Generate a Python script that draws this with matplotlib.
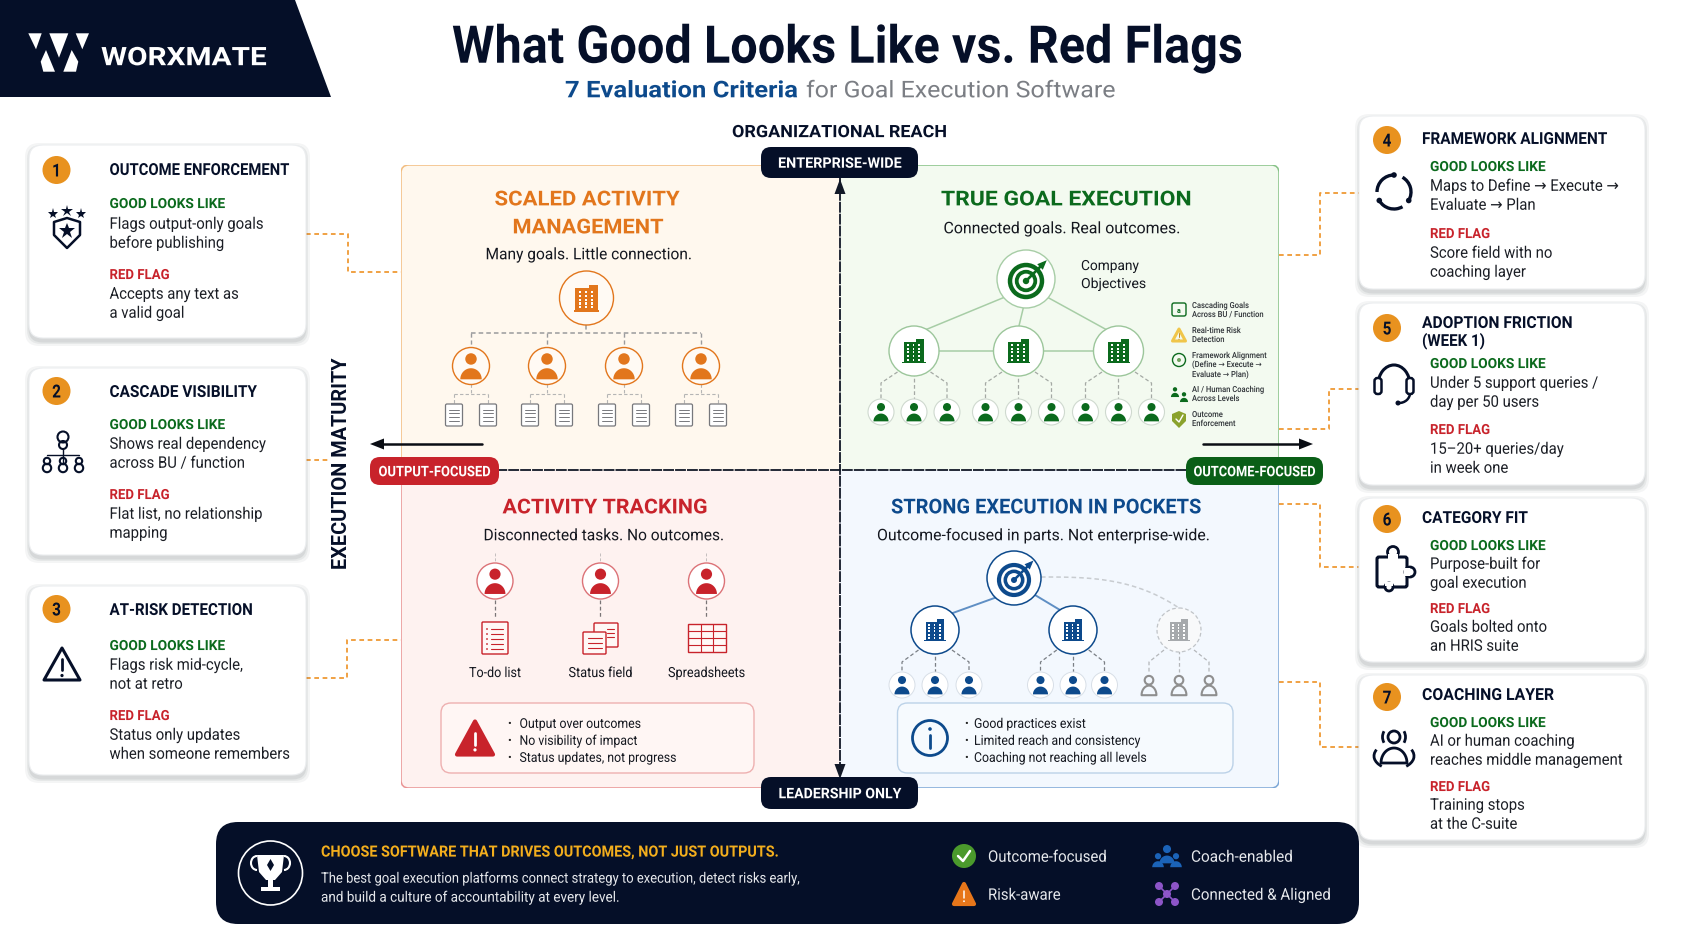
import numpy as np
import matplotlib
matplotlib.use("Agg")
import matplotlib.pyplot as plt
from matplotlib.lines import Line2D
from matplotlib.patches import Arc, Circle, FancyBboxPatch, Polygon, Rectangle
from matplotlib.patheffects import AbstractPathEffect
from matplotlib.transforms import Affine2D

# text of the chart
card_titles = [["OUTCOME ENFORCEMENT"], ["CASCADE VISIBILITY"], ["AT-RISK DETECTION"],
               ["FRAMEWORK ALIGNMENT"], ["ADOPTION FRICTION", "(WEEK 1)"], ["CATEGORY FIT"], ["COACHING LAYER"]]
card_good = [["Flags output-only goals", "before publishing"],
             ["Shows real dependency", "across BU / function"],
             ["Flags risk mid-cycle,", "not at retro"],
             ["Maps to Define → Execute →", "Evaluate → Plan"],
             ["Under 5 support queries /", "day per 50 users"],
             ["Purpose-built for", "goal execution"],
             ["AI or human coaching", "reaches middle management"]]
card_red = [["Accepts any text as", "a valid goal"],
            ["Flat list, no relationship", "mapping"],
            ["Status only updates", "when someone remembers"],
            ["Score field with no", "coaching layer"],
            ["15–20+ queries/day", "in week one"],
            ["Goals bolted onto", "an HRIS suite"],
            ["Training stops", "at the C-suite"]]
quad_titles = [["SCALED ACTIVITY", "MANAGEMENT"], ["TRUE GOAL EXECUTION"],
               ["ACTIVITY TRACKING"], ["STRONG EXECUTION IN POCKETS"]]
quad_tags = ["Many goals. Little connection.", "Connected goals. Real outcomes.",
             "Disconnected tasks. No outcomes.", "Outcome-focused in parts. Not enterprise-wide."]
side_list = [["Cascading Goals", "Across BU / Function"], ["Real-time Risk", "Detection"],
             ["Framework Alignment", "(Define → Execute →", "Evaluate → Plan)"],
             ["AI / Human Coaching", "Across Levels"], ["Outcome", "Enforcement"]]
tool_labels = ["To-do list", "Status field", "Spreadsheets"]
red_bullets = ["Output over outcomes", "No visibility of impact", "Status updates, not progress"]
blue_bullets = ["Good practices exist", "Limited reach and consistency", "Coaching not reaching all levels"]
legend_items = ["Outcome-focused", "Risk-aware", "Coach-enabled", "Connected & Aligned"]

NAVY = "#050f28"
ORANGE = "#e2761c"
GREEN = "#0b6a1d"
RED = "#c8232b"
BLUE = "#0d4a8c"
DASH = "#ef9a35"
FONT = "Roboto"

fig = plt.figure(figsize=(16.83, 9.35), dpi=100, facecolor="white")
ax = fig.add_axes([0, 0, 1, 1])
ax.set_xlim(0, 1683)
ax.set_ylim(935, 0)
ax.axis("off")
renderer = fig.canvas.get_renderer()

# painter's order: later call is on top
z = [1]


class Squeeze(AbstractPathEffect):
    # the reference lettering is narrower than any installed font
    def __init__(self, x0, sx):
        super().__init__()
        self.x0 = x0
        self.sx = sx

    def draw_path(self, rend, gc, tpath, affine, rgbFace=None):
        aff = affine + Affine2D().translate(-self.x0, 0).scale(self.sx, 1).translate(self.x0, 0)
        rend.draw_path(gc, tpath, aff, rgbFace)


def add(art):
    z[0] += 1
    art.set_zorder(z[0])
    if isinstance(art, Line2D):
        ax.add_line(art)
    else:
        ax.add_patch(art)
    return art


def txt(x, y, s, px, color="#14171f", weight="normal", ha="left", fit=None, sx=None):
    z[0] += 1
    t = ax.text(x, y + 0.36 * px, s, fontsize=px * 0.72, color=color, fontweight=weight, ha=ha,
                va="baseline", family=[FONT, "DejaVu Sans"], zorder=z[0])
    if fit:
        sx = fit / t.get_window_extent(renderer).width
    if sx:
        t.set_path_effects([Squeeze(ax.transData.transform((x, y))[0], sx)])
    return t


def rrect(x0, y0, x1, y1, r, fc, ec="none", lw=1.0, ls="-", alpha=None):
    return add(FancyBboxPatch((x0, y0), x1 - x0, y1 - y0, boxstyle=f"round,pad=0,rounding_size={r}",
                              fc=fc, ec=ec, lw=lw, ls=ls, alpha=alpha))


def line(xs, ys, color="#111111", lw=1.0, ls="-"):
    return add(Line2D(xs, ys, color=color, lw=lw, ls=ls, solid_capstyle="round", dash_capstyle="butt"))


def circle(x, y, r, fc="none", ec="none", lw=1.0, ls="-"):
    return add(Circle((x, y), r, fc=fc, ec=ec, lw=lw, ls=ls))


def poly(pts, fc="none", ec="none", lw=1.0):
    return add(Polygon(pts, closed=True, fc=fc, ec=ec, lw=lw, joinstyle="round"))


def shoulders(x, y, a, b, fc="none", ec="none", lw=1.0):
    t = np.linspace(np.pi, 2 * np.pi, 24)
    return poly(np.c_[x + a * np.cos(t), y + b * np.sin(t)], fc=fc, ec=ec, lw=lw)


def person(x, y, r, color, ring=None, ring_lw=1.0, fill="white"):
    if ring:
        circle(x, y, r, fc=fill, ec=ring, lw=ring_lw)
    circle(x, y - 0.38 * r, 0.31 * r, fc=color)
    shoulders(x, y + 0.72 * r, 0.58 * r, 0.6 * r, fc=color)


def ghost(x, y, r, color):
    circle(x, y - 0.4 * r, 0.36 * r, ec=color, lw=1.5)
    shoulders(x, y + 0.85 * r, 0.62 * r, 0.8 * r, ec=color, lw=1.5)


def building(x, y, s, color):
    w = s * 0.85
    add(Rectangle((x - w / 2, y - s * 0.38), w * 0.62, s * 0.88, fc=color))
    add(Rectangle((x + w * 0.12, y - s * 0.5), w * 0.38, s * 1.0, fc=color))
    add(Rectangle((x - w * 0.58, y + s * 0.45), w * 1.16, s * 0.07, fc=color))
    for i in range(5):
        for j in range(3):
            add(Rectangle((x - w * 0.36 + j * w * 0.29, y - s * 0.28 + i * s * 0.15), s * 0.08, s * 0.08,
                          fc="white"))


def doc(x, y, w, h, color="#77787c"):
    rrect(x - w / 2, y - h / 2, x + w / 2, y + h / 2, 1.5, "white", ec=color, lw=0.9)
    for k in range(4):
        yy = y - h * 0.25 + k * h * 0.17
        line([x - w * 0.3, x + w * 0.3], [yy, yy], color=color, lw=0.7)


def target(x, y, r, color):
    circle(x, y, r, ec=color, lw=r * 0.2)
    circle(x, y, r * 0.58, ec=color, lw=r * 0.17)
    circle(x, y, r * 0.2, fc=color)
    line([x, x + r * 1.1], [y, y - r * 1.1], color=color, lw=r * 0.12)
    poly([(x + r * 1.3, y - r * 1.3), (x + r * 0.7, y - r * 1.05), (x + r * 1.05, y - r * 0.7)], fc=color)


def warn(x, y, w, h, color, fill=True, mark="white"):
    lw = 3.0 if fill else 2.2
    pts = [(x, y - h / 2), (x + w / 2, y + h / 2), (x - w / 2, y + h / 2)]
    poly(pts, fc=color if fill else "none", ec=color, lw=lw)
    line([x, x], [y - h * 0.16, y + h * 0.2], color=mark, lw=w * 0.055)
    circle(x, y + h * 0.36, w * 0.045, fc=mark)


def elbow(xs, ys):
    line(xs, ys, color=DASH, lw=1.3, ls=(0, (2.6, 2.0)))


def gray_dash(xs, ys, color="#9a9b9d", lw=0.9):
    line(xs, ys, color=color, lw=lw, ls=(0, (3, 2)))


# ------------- header
poly([(0, 0), (295, 0), (331, 97), (0, 97)], fc=NAVY)
for pts in ([(28.3, 33.3), (41.7, 33.3), (36, 49.3)], [(49.3, 33.3), (68.3, 33.3), (59, 57.7)],
            [(75.7, 33.3), (89, 33.3), (82.3, 49.3)], [(46, 50), (55, 71.7), (43.3, 71.7), (40.7, 61.7)],
            [(71.7, 50), (78.3, 61.7), (76, 71.7), (63.3, 71.7)]):
    poly(pts, fc="white")
txt(101, 56, "WORXMATE", 25.5, color="white", weight="bold", fit=166)
txt(452, 44, "What Good Looks Like vs. Red Flags", 52, color=NAVY, weight="bold", fit=790)
txt(565, 89, "7 Evaluation Criteria", 23, color=BLUE, weight="bold", fit=233)
txt(806, 89, "for Goal Execution Software", 23, color="#7b7e84", fit=310)
txt(840, 131, "ORGANIZATIONAL REACH", 17, color=NAVY, weight="bold", ha="center", fit=216)
z[0] += 1
ax.text(342, 463, "EXECUTION MATURITY", fontsize=14.3, color=NAVY, fontweight="bold", rotation=90,
        ha="center", va="center", family=FONT, zorder=z[0])

# ------------- quadrants
quad_fill = ["#fff8ee", "#f3faf0", "#fef2f0", "#f3f8fe"]
quad_edge = ["#f2bd80", "#86c186", "#e99393", "#7ba6d6"]
quad_box = [(401, 165, 840, 470), (840, 165, 1279, 470), (401, 470, 840, 788), (840, 470, 1279, 788)]
for (x0, y0, x1, y1), fc, ec in zip(quad_box, quad_fill, quad_edge):
    left = x0 - 30 if x0 == 840 else x0
    right = x1 + 30 if x1 == 840 else x1
    top = y0 - 30 if y0 == 470 else y0
    bot = y1 + 30 if y1 == 470 else y1
    p = rrect(left, top, right, bot, 8, fc, ec=ec, lw=1.1)
    p.set_clip_path(Rectangle((x0, y0), x1 - x0, y1 - y0, transform=ax.transData))

# headings of quadrants
txt(587, 198, quad_titles[0][0], 20.5, color=ORANGE, weight="bold", ha="center", fit=185)
txt(588, 226, quad_titles[0][1], 20.5, color=ORANGE, weight="bold", ha="center", fit=151)
txt(589, 253.5, quad_tags[0], 16, ha="center", fit=207)
txt(1066, 198, quad_titles[1][0], 20.5, color=GREEN, weight="bold", ha="center", fit=250)
txt(1062, 227.5, quad_tags[1], 16, ha="center", fit=237)
txt(605, 506, quad_titles[2][0], 20.5, color=RED, weight="bold", ha="center", fit=205)
txt(604, 534.5, quad_tags[2], 16, ha="center", fit=241)
txt(1046, 506, quad_titles[3][0], 20.5, color=BLUE, weight="bold", ha="center", fit=310)
txt(1044, 534.5, quad_tags[3], 16, ha="center", fit=334)

# scaled activity tree
gray_dash([471, 701], [333, 333], lw=1.1)
gray_dash([586, 586], [325, 333], lw=1.1)
person_x = [471, 547, 624, 701]
for px in person_x:
    gray_dash([px, px], [333, 348], lw=1.0)
    gray_dash([px - 17, px + 17], [394, 394], color="#b5b5b5", lw=0.8)
    gray_dash([px, px], [384, 394], color="#b5b5b5", lw=0.8)
    for dx in (-17, 17):
        gray_dash([px + dx, px + dx], [394, 404], color="#b5b5b5", lw=0.8)
        doc(px + dx, 415, 17, 22)
    person(px, 366, 18.5, ORANGE, ring=ORANGE, fill="#fffaf4")
circle(586.5, 298, 27, fc="#fffaf4", ec=ORANGE, lw=1.0)
building(586.5, 298, 26, ORANGE)

# true goal tree
LG = "#a7cda6"
mids = [914, 1018.5, 1118.5]
line([1005, 925], [297, 330], color=LG, lw=1.1)
line([1024, 1018], [305, 330], color=LG, lw=1.1)
line([1047, 1107], [297, 330], color=LG, lw=1.1)
line([914, 1118], [351, 351], color=LG, lw=1.1)
circle(1026, 279, 29, fc="white", ec=LG, lw=1.0)
target(1026, 281, 16, GREEN)
txt(1081, 265, "Company", 14, fit=58)
txt(1081, 283, "Objectives", 14, fit=65)
for mx in mids:
    for dx in (-33, 0, 33):
        gray_dash([mx + dx * 0.5, mx + dx, mx + dx], [372, 383, 399], color="#a4a9a4")
        person(mx + dx, 412, 13, GREEN, ring="#cfd9cf", ring_lw=0.8)
    circle(mx, 351, 25, fc="white", ec="#9cc69b", lw=1.0)
    building(mx, 351, 24, GREEN)

side_y = [[305, 314], [330, 339], [355, 364, 374], [389, 398], [414, 423]]
for rows, ys in zip(side_list, side_y):
    for s, yy in zip(rows, ys):
        txt(1192, yy, s, 8.4, color="#2d3136", weight=500, sx=0.9)
rrect(1172, 303, 1186, 316, 2, "none", ec=GREEN, lw=1.0)
txt(1179, 310, "a", 7, color=GREEN, weight="bold", ha="center")
warn(1179, 335, 13, 12, "#f0c64a", fill=False, mark="#c98f20")
circle(1179, 360, 6.5, ec=GREEN, lw=1.0)
circle(1179, 360, 2, fc="#6ba05a")
person(1175, 392, 7, GREEN)
person(1184, 397, 7, GREEN)
poly([(1172, 414), (1179, 411), (1186, 414), (1186, 421), (1179, 428), (1172, 421)], fc="#8aa22c")
line([1176, 1179, 1183], [419, 422, 415], color="white", lw=1.0)

# activity tracking
tool_x = [495, 600.5, 706.5]
for tx in tool_x:
    gray_dash([tx, tx], [553, 563], color="#c4bebe", lw=0.7)
    gray_dash([tx, tx], [600, 618], color="#7a7577")
    person(tx, 581, 18, RED, ring="#dc7277", ring_lw=1.0)
for tx, s, w in zip(tool_x, tool_labels, [52, 64, 77]):
    txt(tx, 672, s, 14, ha="center", fit=w)
# to-do list
rrect(482, 622, 508, 654, 1, "#fff8f6", ec=RED, lw=1.0)
for k in range(5):
    yy = 629 + k * 5
    circle(487, yy, 0.9, fc=RED)
    line([491, 503], [yy, yy], color=RED, lw=0.8)
# status field
rrect(594, 623, 618, 647, 1, "#fff8f6", ec=RED, lw=1.0)
rrect(583, 632, 606, 654, 1, "#fff8f6", ec=RED, lw=1.0)
for k in range(3):
    line([588, 602], [638 + k * 5, 638 + k * 5], color=RED, lw=0.8)
    line([607, 614], [629 + k * 4, 629 + k * 4], color=RED, lw=0.8)
# spreadsheet
add(Rectangle((688, 624), 38, 28, fc="#fff8f6", ec=RED, lw=1.0))
for k in range(1, 4):
    line([688, 726], [624 + k * 7, 624 + k * 7], color=RED, lw=0.8)
for k in range(1, 3):
    line([688 + k * 12.7, 688 + k * 12.7], [624, 652], color=RED, lw=0.8)

rrect(441, 703, 754, 773, 10, "#fff6f4", ec="#eeb0b0", lw=1.0)
warn(475, 738, 36, 33, RED)
for s, yy in zip(red_bullets, [723, 740, 757]):
    txt(507, yy, "•", 11, color="#222222")
    txt(519.5, yy, s, 13.5, sx=0.91)

# strong execution in pockets
SB = "#5f8fc4"
line([1000, 950], [596, 614], color=SB, lw=1.4)
line([1030, 1060], [592, 610], color=SB, lw=1.4)
t_arc = np.linspace(0, 1, 30)
gray_dash(1041 + t_arc * 138, 577 + 31 * t_arc ** 3, color="#c8ccd0", lw=1.1)
for mx, color in ((935, "#7a7f85"), (1073, "#7a7f85"), (1179, "#b4b7ba")):
    xs = (902, 935, 969) if mx == 935 else (1040.5, 1073, 1104.5) if mx == 1073 else (1149, 1179, 1209)
    for px in xs:
        gray_dash([(mx + px) / 2, px, px], [650, 662, 672], color=color)
for mx in (935, 1073):
    circle(mx, 630, 24, fc="white", ec=BLUE, lw=1.1)
    building(mx, 630, 22, BLUE)
circle(1179, 630, 22, fc="#f8f9fa", ec="#c0c4c8", lw=0.9, ls=(0, (3, 2)))
building(1179, 630, 22, "#a6a9ac")
circle(1014, 578, 27, fc="white", ec=BLUE, lw=1.1)
target(1014, 580, 15, BLUE)
for px in (902, 935, 969, 1040.5, 1073, 1104.5):
    person(px, 685, 13, BLUE, ring="#d8dfe7", ring_lw=0.7)
for px in (1149, 1179, 1209):
    ghost(px, 685, 12, "#8f8f8f")

rrect(897.5, 703, 1233, 773, 10, "#f6fafe", ec="#bcd2e8", lw=1.0)
circle(930, 738, 17.5, fc="none", ec=BLUE, lw=2.0)
line([930, 930], [735, 748], color=BLUE, lw=2.0)
circle(930, 729, 1.8, fc=BLUE)
for s, yy in zip(blue_bullets, [723, 740, 757]):
    txt(964, yy, "•", 11, color="#222222")
    txt(974, yy, s, 13.5, sx=0.91)

# ------------- axes through the middle
line([840, 840], [178, 774], color="#111827", lw=1.3, ls=(0, (6, 0.6)))
line([401, 1279], [470, 470], color="#111827", lw=1.3, ls=(0, (6, 0.6)))
poly([(840, 179), (834.5, 194), (845.5, 194)], fc="#111827")
poly([(840, 779), (834.5, 764), (845.5, 764)], fc="#111827")
line([482, 380], [444, 444], color="#0a0d14", lw=1.8)
poly([(370, 444), (384, 438.5), (384, 449.5)], fc="#0a0d14")
line([1203, 1303], [444, 444], color="#0a0d14", lw=1.8)
poly([(1313, 444), (1299, 438.5), (1299, 449.5)], fc="#0a0d14")

for x0, y0, x1, y1, fc, s, w in ((761, 147, 918, 178, NAVY, "ENTERPRISE-WIDE", 123),
                                 (761, 777, 918, 809, NAVY, "LEADERSHIP ONLY", 122),
                                 (370, 457, 499, 485, RED, "OUTPUT-FOCUSED", 112),
                                 (1186, 457, 1323, 485, "#0a5f17", "OUTCOME-FOCUSED", 122)):
    rrect(x0, y0, x1, y1, 10, fc)
    txt((x0 + x1) / 2, (y0 + y1) / 2, s, 14.5, color="white", weight="bold", ha="center", fit=w)


# ------------- cards
def icon_shield(x, y):
    for dx, dy, ms in ((-14, -14, 8), (0, -17, 9), (14, -14, 8)):
        add(Line2D([x + dx], [y + dy], marker="*", ms=ms, color=NAVY, mew=0))
    poly([(x - 13, y - 6), (x, y - 10), (x + 13, y - 6), (x + 13, y + 7), (x, y + 20), (x - 13, y + 7)],
         fc="white", ec=NAVY, lw=1.8)
    add(Line2D([x], [y + 3], marker="*", ms=12, color=NAVY, mew=0))


def icon_org(x, y):
    circle(x, y - 15, 5.5, ec=NAVY, lw=1.5)
    circle(x, y - 7, 4, ec=NAVY, lw=1.5)
    line([x, x], [y - 3, y + 12], color=NAVY, lw=1.0)
    line([x - 16, x + 16], [y + 3, y + 3], color=NAVY, lw=1.0)
    for dx in (-16, 0, 16):
        circle(x + dx, y + 9, 3.2, ec=NAVY, lw=1.5)
        circle(x + dx, y + 16, 4.2, ec=NAVY, lw=1.5)


def icon_cycle(x, y):
    for a0, a1 in ((-60, 30), (60, 150), (180, 270)):
        add(Arc((x, y), 34, 34, theta1=a0, theta2=a1, ec=NAVY, lw=2.4))
    for a in (30, 150, 270):
        rad = np.radians(a)
        circle(x + 17 * np.cos(rad), y + 17 * np.sin(rad), 2.8, fc=NAVY)


def icon_headset(x, y):
    add(Arc((x, y + 2), 32, 40, theta1=180, theta2=360, ec=NAVY, lw=2.2))
    for dx in (-16, 16):
        rrect(x + dx - 3.5, y - 5, x + dx + 3.5, y + 11, 3, "white", ec=NAVY, lw=1.8)
    add(Arc((x + 5, y + 10), 22, 20, theta1=0, theta2=90, ec=NAVY, lw=1.8))
    circle(x + 4, y + 20, 2.5, fc=NAVY)


def icon_puzzle(x, y):
    rrect(x - 17, y - 10, x + 13, y + 20, 2, "white", ec=NAVY, lw=2.2)
    circle(x - 1, y - 15, 5.5, fc="white", ec=NAVY, lw=2.0)
    circle(x + 16, y + 5, 5, fc="white", ec=NAVY, lw=2.0)
    circle(x - 5, y + 20, 4, fc="white", ec=NAVY, lw=2.0)
    add(Rectangle((x - 6, y - 13), 10, 6, fc="white"))
    add(Rectangle((x + 10, y + 1), 6, 8, fc="white"))
    add(Rectangle((x - 9, y + 15), 8, 4, fc="white"))


def icon_people(x, y):
    circle(x, y - 11, 6, ec=NAVY, lw=2.0)
    add(Arc((x, y - 11), 23, 23, theta1=150, theta2=210, ec=NAVY, lw=2.0))
    add(Arc((x, y - 11), 23, 23, theta1=-30, theta2=30, ec=NAVY, lw=2.0))
    shoulders(x, y + 15, 13, 15, ec=NAVY, lw=2.0)
    add(Arc((x, y + 8), 40, 26, theta1=140, theta2=200, ec=NAVY, lw=2.0))
    add(Arc((x, y + 8), 40, 26, theta1=-20, theta2=40, ec=NAVY, lw=2.0))


def icon_warn(x, y):
    warn(x, y, 36, 32, NAVY, fill=False, mark=NAVY)


card_icons = [icon_shield, icon_org, icon_warn, icon_cycle, icon_headset, icon_puzzle, icon_people]
card_box = [(29, 145, 306, 338), (29, 368, 306, 555), (29, 586, 306, 775),
            (1359, 116, 1645, 289), (1359, 303, 1645, 485), (1359, 498, 1645, 662), (1359, 675, 1645, 840)]
# y of badge, title lines, good label, good lines, red label, red lines, icon
card_rows = [(170, [169], 203, [224, 243], 274, [294, 313], 228),
             (391, [391], 424, [444, 463], 494, [514, 533], 452),
             (609, [609], 645, [665, 684], 715, [735, 754], 664),
             (140, [138], 166, [186, 205], 233, [253, 272], 192),
             (328, [322, 340], 363, [383, 402], 429, [449, 468], 383),
             (519, [517], 545, [564, 583], 608, [627, 646], 567),
             (697, [694], 722, [741, 760], 786, [805, 824], 748)]
card_icon_x = [67, 63, 62, 1394, 1394, 1394, 1394]
card_title_w = [[180], [148], [143.5], [185], [151, 63], [106], [132]]

elbow([306, 348, 348, 401], [234, 234, 272, 272])
elbow([306, 330], [460, 460])
elbow([306, 347, 347, 401], [678, 678, 640, 640])
elbow([1279, 1320, 1320, 1359], [255, 255, 193, 193])
elbow([1279, 1329, 1329, 1359], [429, 429, 389, 389])
elbow([1279, 1320, 1320, 1359], [504, 504, 567, 567])
elbow([1279, 1320, 1320, 1359], [682, 682, 747, 747])

for i, (box, rows) in enumerate(zip(card_box, card_rows)):
    x0, y0, x1, y1 = box
    for k, a in ((5, 0.05), (3, 0.07), (1.5, 0.09)):
        rrect(x0 - k + 1, y0 - k + 3, x1 + k - 1, y1 + k + 3, 14, "#3a3f4a", alpha=a)
    rrect(x0, y0, x1, y1, 14, "white", ec="#eceef0", lw=0.8)
    ybadge, ytitle, ygood, ygoods, yred, yreds, yicon = rows
    left = i < 3
    badge_x = 56.5 if left else 1387
    title_x = 109.5 if left else 1422
    text_x = 109.5 if left else 1430
    circle(badge_x, ybadge, 14, fc="#e8921f")
    txt(badge_x, ybadge, str(i + 1), 18, color=NAVY, weight="bold", ha="center", sx=0.85)
    for s, yy, w in zip(card_titles[i], ytitle, card_title_w[i]):
        txt(title_x, yy, s, 16.5, color=NAVY, weight="bold", fit=w)
    txt(text_x, ygood, "GOOD LOOKS LIKE", 14, color=GREEN, weight="bold", fit=116)
    for s, yy in zip(card_good[i], ygoods):
        txt(text_x, yy - 1, s, 16, color="#1b1e25", sx=0.93)
    txt(text_x, yred, "RED FLAG", 14, color=RED, weight="bold", fit=60)
    for s, yy in zip(card_red[i], yreds):
        txt(text_x, yy - 1, s, 16, color="#1b1e25", sx=0.93)
    card_icons[i](card_icon_x[i], yicon)

# ------------- bottom banner
rrect(216, 822, 1359, 924, 22, NAVY)
circle(270.5, 873, 32, ec="white", lw=1.2)
# trophy
poly([(257, 855), (284, 855), (282, 872), (275, 880), (266, 880), (259, 872)], fc="white")
add(Arc((257, 863), 12, 14, theta1=90, theta2=270, ec="white", lw=1.5))
add(Arc((284, 863), 12, 14, theta1=-90, theta2=90, ec="white", lw=1.5))
add(Rectangle((268, 880), 5, 7, fc="white"))
add(Rectangle((261, 887), 19, 4, fc="white"))
poly([(270.5, 859), (274, 865), (270.5, 871), (267, 865)], fc=NAVY)

txt(321, 851, "CHOOSE SOFTWARE THAT DRIVES OUTCOMES, NOT JUST OUTPUTS.", 15.5, color="#f3ae1d", weight="bold", fit=456)
txt(321, 877.5, "The best goal execution platforms connect strategy to execution, detect risks early,", 14.5,
    color="#e6e8ec", fit=478)
txt(321, 896.5, "and build a culture of accountability at every level.", 14.5, color="#e6e8ec", fit=298)

circle(964, 856, 12, fc="#4b9a2c")
line([958, 963, 970], [856, 861, 851], color="white", lw=1.8)
warn(964, 894, 20, 20, "#e7761a")
person(1158, 860, 10, "#1b63b8")
person(1176, 860, 10, "#1b63b8")
person(1167, 854, 13, "#1b63b8")
for px, py in ((1167, 894), (1159, 886), (1175, 886), (1159, 902), (1175, 902)):
    circle(px, py, 4, fc="#8d55c8")
line([1159, 1175], [886, 902], color="#8d55c8", lw=1.2)
line([1159, 1175], [902, 886], color="#8d55c8", lw=1.2)
for s, x, y, w in zip(legend_items, [988, 988, 1191, 1191], [856, 894, 856, 894], [119, 73, 102, 140]):
    txt(x, y, s, 16, color="#e6e8ec", fit=w)

fig.savefig("out.png", dpi=100, facecolor="white")
